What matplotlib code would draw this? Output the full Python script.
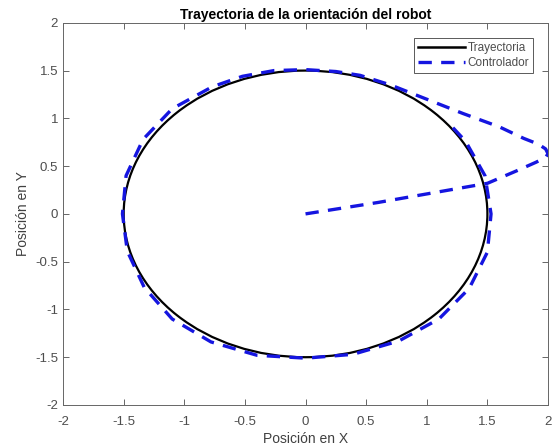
import matplotlib
matplotlib.use("Agg")
import matplotlib.pyplot as plt
from matplotlib.patches import Ellipse
from matplotlib.lines import Line2D

plt.rcParams['font.family'] = ['Liberation Sans', 'DejaVu Sans']

# reference trajectory: circle
centro = (0.0, 0.0)
radio = 1.5

# controller path
ctrl_x = [0.0, 0.25, 0.6, 1.05, 1.5, 1.74, 1.90, 1.98, 2.0, 1.98, 1.92,
          1.8, 1.6, 1.3, 1.0, 0.7, 0.45, 0.25, 0.0,
          -0.26, -0.52, -0.77, -1.10, -1.34, -1.48, -1.51,
          -1.47, -1.33, -1.10, -0.78, -0.40, 0.0,
          0.39, 0.77, 1.10, 1.35, 1.50, 1.53, 1.48, 1.32, 1.21, 1.16]
ctrl_y = [0.0, 0.05, 0.12, 0.22, 0.32, 0.45, 0.54, 0.59, 0.63, 0.68, 0.73,
          0.79, 0.91, 1.05, 1.2, 1.35, 1.45, 1.49, 1.51,
          1.50, 1.44, 1.33, 1.10, 0.78, 0.40, 0.0,
          -0.39, -0.77, -1.10, -1.34, -1.48, -1.51,
          -1.47, -1.33, -1.10, -0.78, -0.40, 0.0, 0.40, 0.76, 0.91, 0.97]

ticks = [-2, -1.5, -1, -0.5, 0, 0.5, 1, 1.5, 2]
tick_labels = ['-2', '-1.5', '-1', '-0.5', '0', '0.5', '1', '1.5', '2']

fig = plt.figure(figsize=(5.53, 4.47), dpi=100)
ax = fig.add_axes([0.114, 0.094, 0.877, 0.855])

circ = Ellipse(centro, 2 * radio, 2 * radio, fill=False, edgecolor='black', linewidth=1.6)
ax.add_patch(circ)
linea, = ax.plot(ctrl_x, ctrl_y, color='#1515e0', linestyle=(0, (4, 2.8)), linewidth=2.4,
                 label='Controlador')

ax.set_xlim(-2, 2)
ax.set_ylim(-2, 2)
ax.set_xticks(ticks)
ax.set_xticklabels(tick_labels)
ax.set_yticks(ticks)
ax.set_yticklabels(tick_labels)
ax.tick_params(direction='in', top=True, right=True, length=4, width=0.6,
               labelsize=9.5, colors='0.3')
ax.tick_params(axis='x', pad=8)
ax.tick_params(axis='y', pad=3.5)
for s in ax.spines.values():
    s.set_color('0.4')
    s.set_linewidth(0.7)

ax.set_title('Trayectoria de la orientación del robot', fontsize=10, fontweight='bold', pad=3)
ax.set_xlabel('Posición en X', fontsize=10, color='0.25', labelpad=3)
ax.set_ylabel('Posición en Y', fontsize=10, color='0.25', labelpad=4)

proxy = Line2D([], [], color='black', linewidth=1.8)
leg = ax.legend([proxy, linea], ['Trayectoria', 'Controlador'], loc='upper right',
                fontsize=8.5, fancybox=False, edgecolor='0.35', framealpha=1,
                handlelength=4.0, handletextpad=0.2, borderaxespad=1.25,
                borderpad=0.35, labelspacing=0.25)
leg.get_frame().set_linewidth(0.7)
for t in leg.get_texts():
    t.set_color('0.3')

fig.savefig('out.png', dpi=100)
